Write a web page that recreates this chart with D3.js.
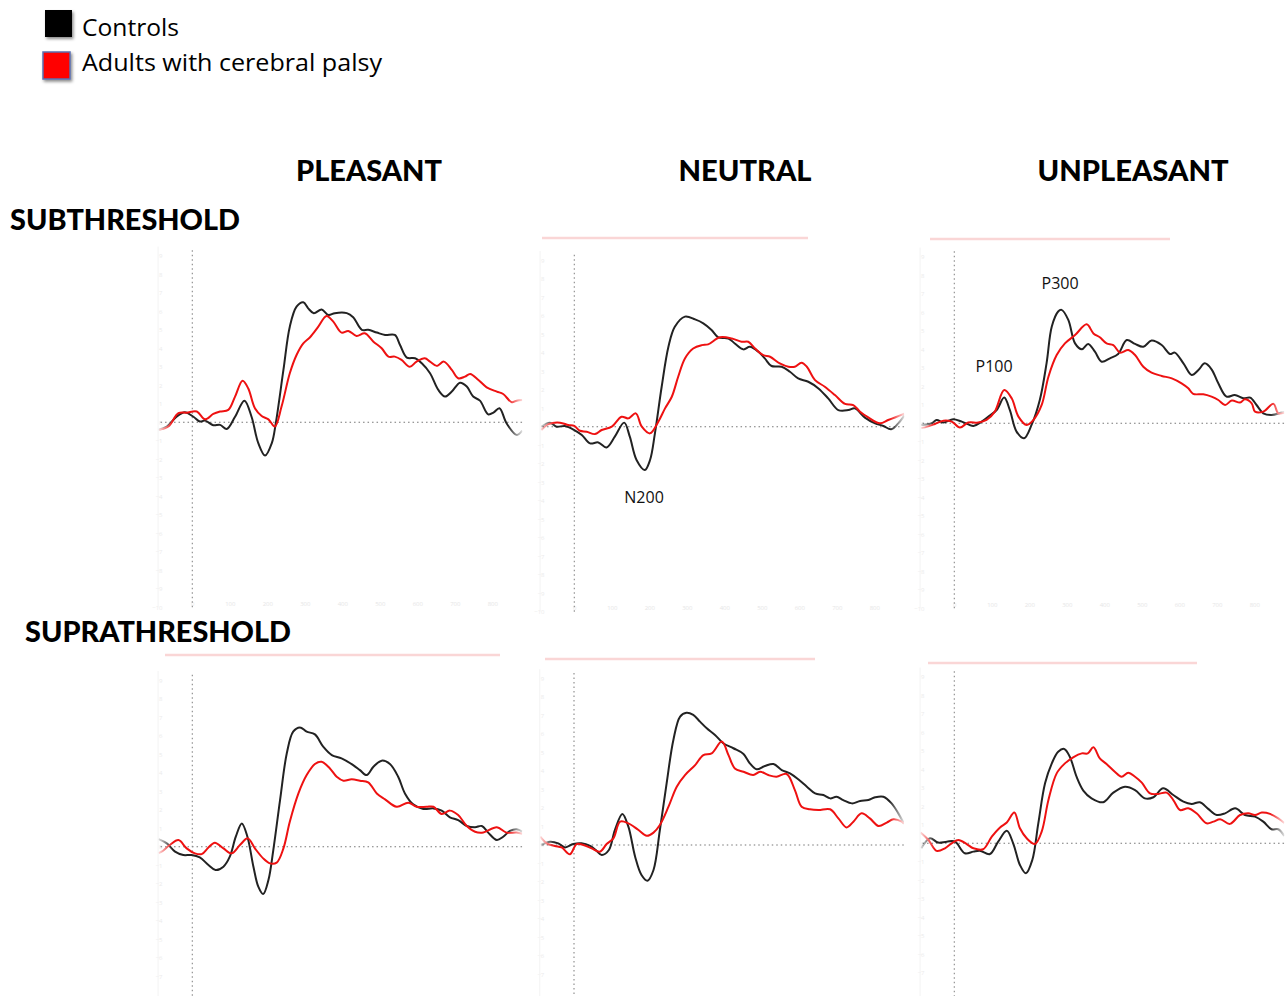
<!DOCTYPE html>
<html>
<head>
<meta charset="utf-8">
<script src="https://cdn.jsdelivr.net/npm/d3@7"></script>
<style>
  html, body { margin: 0; padding: 0; background: #fff; }
  svg { display: block; }
</style>
</head>
<body>
<svg id="chart" width="1288" height="996"></svg>
<script>
// ---------------- DATA ----------------
const conditions = ["PLEASANT", "NEUTRAL", "UNPLEASANT"];
const thresholds = ["SUBTHRESHOLD", "SUPRATHRESHOLD"];
const groups = ["Controls", "Adults with cerebral palsy"];
const timeTicks = [0, 100, 200, 300, 400, 500, 600, 700, 800];
const voltTicks = [9, 8, 7, 6, 5, 4, 3, 2, 1, 0, -1, -2, -3, -4, -5, -6, -7, -8, -9, -10];

// [time (ms), amplitude (µV)]
const subPleasantControls = [[-90,-0.4],[-68,-0.23],[-42,0.3],[-20,0.54],[3,0.3],[20,0.04],[34,0.09],[56,-0.16],[74,-0.14],[92,-0.36],[114,0.3],[139,1.17],[158,0.3],[176,-1.13],[194,-1.8],[212,-1.13],[223,0],[243,2.83],[260,5.17],[278,6.25],[296,6.49],[309,6.16],[324,5.9],[345,6.1],[363,5.8],[380,5.9],[412,5.9],[429,5.68],[452,5.0],[469,5.0],[492,4.85],[514,4.72],[540,4.72],[554,4.18],[572,3.5],[594,3.46],[612,3.19],[634,2.65],[656,1.75],[674,1.39],[692,1.66],[714,2.14],[732,1.93],[749,1.39],[767,1.17],[789,0.43],[803,0.52],[819,0.76],[838,-0.05],[865,-0.68],[880,-0.45]];
const subPleasantCP = [[-88,-0.41],[-64,-0.23],[-37,0.49],[-15,0.52],[12,0.58],[34,0.16],[56,0.45],[74,0.58],[96,0.67],[114,1.39],[134,2.25],[149,1.84],[167,0.76],[185,0.34],[203,0.16],[220,-0.23],[238,0.85],[260,2.65],[278,3.64],[296,4.27],[314,4.6],[336,5.17],[358,5.75],[376,5.44],[398,4.85],[416,4.94],[438,4.67],[460,4.81],[483,4.36],[505,4.0],[523,3.55],[540,3.55],[558,3.37],[580,3.0],[598,3.28],[620,3.46],[634,3.28],[652,3.05],[671,3.28],[692,2.83],[709,2.38],[727,2.47],[741,2.61],[763,2.29],[785,1.89],[812,1.66],[829,1.53],[852,1.08],[865,1.17],[880,1.21]];

const subNeutralControls = [[-88,0],[-65,0.22],[-47,0],[-25,0.04],[0,-0.18],[20,-0.45],[42,-0.9],[64,-0.85],[86,-1.12],[108,-0.54],[133,0.22],[148,-0.54],[166,-1.8],[188,-2.34],[202,-1.8],[215,-0.36],[233,2.16],[251,4.32],[268,5.4],[295,5.95],[322,5.8],[344,5.59],[366,5.23],[384,4.83],[411,4.77],[428,4.5],[451,4.18],[468,4.32],[491,4.05],[508,3.69],[526,3.28],[553,3.24],[575,2.97],[597,2.61],[624,2.43],[651,2.07],[677,1.53],[704,0.9],[731,0.9],[748,0.99],[775,0.49],[802,0.18],[824,0.04],[845,-0.14],[864,0.18],[880,0.6]];
const subNeutralCP = [[-88,-0.18],[-69,0.14],[-38,0.22],[-16,0.09],[0,0.04],[15,-0.22],[33,-0.27],[55,-0.4],[73,-0.18],[100,0],[126,0.54],[144,0.45],[164,0.72],[180,0],[202,-0.36],[224,0.27],[242,0.99],[260,1.62],[277,2.7],[295,3.69],[317,4.23],[340,4.41],[357,4.45],[388,4.83],[420,4.77],[446,4.59],[464,4.59],[482,4.23],[504,3.87],[522,3.78],[548,3.42],[571,3.24],[588,3.24],[606,3.46],[620,3.24],[642,2.52],[668,2.16],[695,1.71],[722,1.23],[744,1.17],[762,0.81],[784,0.5],[815,0.18],[837,0.36],[855,0.5],[880,0.7]];

const subUnpleasantControls = [[-88,-0.09],[-60,0],[-47,0.18],[-29,0.04],[-3,0.22],[20,0.09],[51,-0.14],[73,0.09],[91,0.36],[113,0.72],[133,1.39],[148,0.72],[166,-0.45],[186,-0.81],[206,-0.09],[228,1.26],[246,3.24],[260,5.23],[277,6.04],[286,6.13],[304,5.59],[322,4.32],[340,4.0],[357,4.29],[375,3.87],[393,3.33],[415,3.51],[437,3.75],[460,4.5],[482,4.29],[504,4.14],[526,4.47],[553,4.23],[575,3.75],[588,3.82],[611,3.24],[633,2.61],[651,2.88],[668,3.24],[686,2.92],[704,2.16],[726,1.44],[748,1.53],[771,1.35],[789,1.39],[806,0.99],[824,0.54],[846,0.45],[873,0.58],[880,0.6]];
const subUnpleasantCP = [[-88,-0.25],[-78,-0.22],[-52,-0.04],[-29,0.14],[-7,0.09],[15,-0.23],[37,0.04],[64,0.04],[86,0.18],[108,0.63],[133,1.8],[153,1.35],[171,0.36],[193,-0.09],[211,0.18],[233,0.99],[251,2.52],[273,3.69],[295,4.32],[322,4.77],[353,5.35],[371,4.86],[388,4.65],[406,4.32],[424,4.23],[442,3.82],[464,3.96],[482,3.69],[504,3.06],[526,2.74],[553,2.56],[580,2.43],[606,2.16],[624,1.89],[637,1.59],[664,1.57],[686,1.44],[704,1.26],[722,0.99],[740,1.23],[762,1.12],[775,1.3],[793,1.08],[802,0.63],[824,0.63],[851,1.05],[864,0.54],[880,0.58]];

const supraPleasantControls = [[-90,0.41],[-68,0.18],[-46,-0.27],[-24,-0.45],[-2,-0.45],[20,-0.58],[43,-0.99],[62,-1.26],[83,-1.08],[100,-0.54],[116,0.54],[132,1.26],[147,0.54],[163,-1.08],[176,-2.16],[189,-2.56],[203,-1.8],[216,-0.18],[234,2.52],[252,5.05],[269,6.22],[287,6.45],[305,6.22],[327,6.07],[349,5.41],[372,4.95],[398,4.77],[429,4.41],[447,4.14],[465,3.87],[483,4.32],[505,4.65],[527,4.47],[549,3.78],[567,2.88],[589,2.29],[616,2.04],[643,2.07],[665,1.95],[687,1.59],[709,1.44],[732,1.12],[754,1.05],[772,1.12],[789,0.76],[812,0.36],[829,0.54],[847,0.85],[865,0.94],[880,0.82]];
const supraPleasantCP = [[-90,-0.35],[-82,-0.27],[-60,0.09],[-37,0.36],[-15,-0.09],[7,-0.36],[25,-0.4],[43,-0.04],[60,0.22],[83,-0.09],[105,-0.36],[127,0.09],[148,0.45],[167,-0.09],[189,-0.63],[207,-0.9],[225,-0.86],[243,-0.09],[260,1.35],[283,2.88],[305,3.87],[327,4.47],[345,4.59],[367,4.23],[385,3.78],[403,3.57],[425,3.64],[447,3.57],[469,3.48],[492,2.88],[514,2.56],[545,2.16],[576,2.38],[598,2.16],[625,2.16],[643,2.16],[665,1.77],[687,1.95],[709,1.71],[732,1.12],[754,0.81],[776,0.77],[812,1.05],[838,0.76],[865,0.77],[880,0.7]];

const supraNeutralControls = [[-88,0],[-64,0.18],[-42,0.09],[-24,-0.13],[-2,0.05],[20,0.09],[43,-0.05],[60,-0.31],[74,-0.54],[93,-0.27],[109,0.81],[129,1.68],[145,0.99],[163,-0.63],[180,-1.62],[196,-1.93],[212,-1.35],[229,0.81],[247,3.33],[265,5.68],[283,6.94],[300,7.15],[318,7.03],[336,6.67],[354,6.31],[376,5.95],[398,5.5],[425,5.23],[452,4.92],[469,4.41],[487,4.09],[509,4.27],[532,4.38],[554,4.05],[576,3.87],[598,3.55],[621,3.15],[643,2.79],[665,2.7],[683,2.52],[700,2.61],[718,2.43],[741,2.25],[763,2.38],[785,2.43],[803,2.58],[825,2.61],[847,2.25],[865,1.71],[880,1.15]];
const supraNeutralCP = [[-90,0.45],[-73,0.09],[-51,-0.05],[-33,-0.13],[-11,-0.5],[7,0.05],[25,0],[47,-0.18],[69,-0.36],[87,0.05],[105,0.36],[123,1.26],[145,1.17],[172,0.81],[194,0.5],[212,0.67],[229,1.08],[252,2.07],[274,3.15],[296,3.78],[323,4.32],[345,4.86],[367,4.95],[394,5.59],[412,4.86],[429,4.14],[452,3.96],[478,3.78],[496,3.96],[518,3.78],[540,3.69],[567,3.84],[589,2.97],[607,2.07],[629,1.93],[652,1.89],[683,1.93],[705,1.44],[727,0.95],[745,1.26],[767,1.71],[789,1.44],[812,1.03],[834,1.21],[852,1.39],[874,1.26],[880,1.15]];

const supraUnpleasantControls = [[-88,-0.27],[-65,0.27],[-43,0.04],[-20,0.09],[2,0.09],[28,-0.54],[51,-0.45],[68,-0.4],[95,-0.58],[117,0.09],[140,0.68],[157,0],[175,-1.17],[191,-1.62],[208,-0.9],[224,1.08],[242,3.24],[260,4.32],[277,4.95],[293,5.1],[308,4.68],[326,3.6],[344,2.85],[366,2.43],[397,2.22],[424,2.74],[455,3.06],[482,2.88],[508,2.43],[531,2.49],[557,2.97],[584,2.61],[611,2.25],[633,2.13],[655,2.22],[677,1.86],[700,1.53],[722,1.62],[749,1.89],[775,1.53],[802,1.44],[824,1.17],[846,0.76],[864,0.76],[880,0.4]];
const supraUnpleasantCP = [[-90,0.58],[-69,0.18],[-47,-0.41],[-25,-0.27],[-7,0],[11,0.18],[33,-0.04],[51,-0.27],[77,-0.32],[100,0.36],[122,0.86],[140,1.12],[160,1.66],[175,0.81],[193,0.27],[215,-0.04],[233,0.63],[251,2.34],[273,3.78],[295,4.32],[317,4.65],[340,4.86],[356,4.86],[371,5.19],[388,4.59],[406,4.29],[428,3.87],[446,3.6],[464,3.82],[482,3.6],[500,3.28],[522,2.7],[544,2.67],[566,2.74],[584,2.34],[602,1.8],[624,1.89],[646,1.62],[673,1.08],[691,1.17],[709,1.3],[735,1.05],[762,1.53],[784,1.62],[802,1.53],[820,1.66],[842,1.59],[864,1.35],[880,1.1]];

// Component labels: [panel index, label, time (ms), amplitude (µV)]
const components = [[2, "P300", 282, 7.6], [2, "P100", 106, 3.1], [1, "N200", 186, -3.8]];

// ---------------- LAYOUT ----------------
const W = 1288, H = 996;
const svg = d3.select("#chart");
const tDomain = [-90, 880];
const vDomain = [-10, 9.5];
const pxPerMs = 0.375, pxPerUV = 18.5;

const panelSeries = [
  [subPleasantControls, subPleasantCP],
  [subNeutralControls, subNeutralCP],
  [subUnpleasantControls, subUnpleasantCP],
  [supraPleasantControls, supraPleasantCP],
  [supraNeutralControls, supraNeutralCP],
  [supraUnpleasantControls, supraUnpleasantCP]
];
// onset x position and baseline y position of each panel
const panelPos = [
  {ox: 192.3, oy: 422.3, pink: null},
  {ox: 574.3, oy: 426.7, pink: [542, 808, 238]},
  {ox: 954.3, oy: 423.3, pink: [930, 1170, 239]},
  {ox: 192.3, oy: 846.7, pink: [165, 500, 655]},
  {ox: 574.0, oy: 845.0, pink: [545, 815, 659]},
  {ox: 954.3, oy: 843.3, pink: [928, 1197, 663]}
];
const colors = ["#222222", "#ee1111"];

const defs = svg.append("defs");
const grad = defs.append("linearGradient").attr("id", "fade")
  .attr("x1", 0).attr("x2", 1).attr("y1", 0).attr("y2", 0);
grad.append("stop").attr("offset", "0%").attr("stop-color", "#fff").attr("stop-opacity", 0.15);
grad.append("stop").attr("offset", "4%").attr("stop-color", "#fff").attr("stop-opacity", 1);
grad.append("stop").attr("offset", "96%").attr("stop-color", "#fff").attr("stop-opacity", 1);
grad.append("stop").attr("offset", "100%").attr("stop-color", "#fff").attr("stop-opacity", 0.15);

const shadow = defs.append("filter").attr("id", "shadow")
  .attr("x", "-30%").attr("y", "-30%").attr("width", "170%").attr("height", "170%");
shadow.append("feDropShadow").attr("dx", 1.5).attr("dy", 2).attr("stdDeviation", 1.5)
  .attr("flood-color", "#000").attr("flood-opacity", 0.45);

panelSeries.forEach((series, i) => {
  const p = panelPos[i];
  const x = d3.scaleLinear().domain(tDomain)
    .range([p.ox + tDomain[0] * pxPerMs, p.ox + tDomain[1] * pxPerMs]);
  const y = d3.scaleLinear().domain(vDomain)
    .range([p.oy - vDomain[0] * pxPerUV, p.oy - vDomain[1] * pxPerUV]);
  const g = svg.append("g");

  // faint remnants of original axes (only those inside the page)
  const visibleVolts = voltTicks.filter(v => y(v) < H - 6);
  const yAxis = d3.axisLeft(y).tickValues(visibleVolts).tickSize(0).tickPadding(0);
  g.append("g").attr("transform", `translate(${x(tDomain[0]) + 4},0)`).call(yAxis)
    .call(a => a.select(".domain").remove())
    .call(a => a.selectAll("text").attr("fill", "#ebebeb").attr("font-size", 6).attr("font-family", "Open Sans"));
  if (y(vDomain[0]) - 6 < H - 6) {
    const xAxis = d3.axisBottom(x).tickValues(timeTicks).tickSize(0).tickPadding(0);
    g.append("g").attr("transform", `translate(0,${y(vDomain[0]) - 6})`).call(xAxis)
      .call(a => a.select(".domain").remove())
      .call(a => a.selectAll("text").attr("fill", "#e6e6e6").attr("font-size", 6).attr("font-family", "Open Sans"));
  }
  g.append("line")
    .attr("x1", x(tDomain[0]) - 0.5).attr("x2", x(tDomain[0]) - 0.5)
    .attr("y1", y(vDomain[1])).attr("y2", Math.min(y(vDomain[0]), H))
    .attr("stroke", "#f3f3f3").attr("stroke-width", 1);
  if (p.pink) {
    g.append("line").attr("x1", p.pink[0]).attr("x2", p.pink[1])
      .attr("y1", p.pink[2]).attr("y2", p.pink[2])
      .attr("stroke", "#fad6d6").attr("stroke-width", 2.5);
  }

  // dotted zero lines
  g.append("line")
    .attr("x1", x(tDomain[0]) + 2).attr("x2", x(tDomain[1]))
    .attr("y1", y(0)).attr("y2", y(0))
    .attr("stroke", "#777").attr("stroke-width", 1.1).attr("stroke-dasharray", "1.5,3");
  g.append("line")
    .attr("x1", x(0)).attr("x2", x(0))
    .attr("y1", y(9.3)).attr("y2", Math.min(y(-10), H))
    .attr("stroke", "#888").attr("stroke-width", 1.1).attr("stroke-dasharray", "1.5,3");

  // ERP waveforms
  const maskId = "m" + i;
  defs.append("mask").attr("id", maskId).attr("maskUnits", "userSpaceOnUse")
    .append("rect")
    .attr("x", x(tDomain[0])).attr("y", y(vDomain[1]))
    .attr("width", x(tDomain[1]) - x(tDomain[0])).attr("height", y(vDomain[0]) - y(vDomain[1]))
    .attr("fill", "url(#fade)");
  const line = d3.line().x(d => x(d[0])).y(d => y(d[1])).curve(d3.curveCatmullRom.alpha(0.5));
  const lg = g.append("g").attr("mask", `url(#${maskId})`);
  series.forEach((s, k) => {
    lg.append("path").datum(s)
      .attr("d", line)
      .attr("fill", "none")
      .attr("stroke", colors[k])
      .attr("stroke-width", 2)
      .attr("stroke-linejoin", "round");
  });

  // component labels
  components.filter(c => c[0] === i).forEach(c => {
    g.append("text")
      .attr("x", x(c[2])).attr("y", y(c[3]))
      .attr("text-anchor", "middle").attr("dominant-baseline", "central")
      .attr("font-family", "Open Sans").attr("font-size", 16).attr("fill", "#111")
      .text(c[1]);
  });
});

// column titles
const colCenters = [369, 745, 1133];
const colWidths = [146, 133, 191];
conditions.forEach((c, i) => {
  svg.append("text")
    .attr("x", colCenters[i] - colWidths[i] / 2).attr("y", 181)
    .attr("font-family", "Lato").attr("font-weight", "900").attr("font-size", 29)
    .attr("textLength", colWidths[i]).attr("lengthAdjust", "spacingAndGlyphs")
    .attr("fill", "#000").text(c);
});
// row titles
const rowPos = [[10, 230, 230], [25, 642, 266]];
thresholds.forEach((t, i) => {
  svg.append("text")
    .attr("x", rowPos[i][0]).attr("y", rowPos[i][1])
    .attr("font-family", "Lato").attr("font-weight", "900").attr("font-size", 29)
    .attr("textLength", rowPos[i][2]).attr("lengthAdjust", "spacingAndGlyphs")
    .attr("fill", "#000").text(t);
});

// legend
const legY = [10, 52];
const legBase = [36, 71];
const legTextW = [97, 300];
groups.forEach((gname, i) => {
  svg.append("rect")
    .attr("x", i === 0 ? 45 : 43).attr("y", legY[i])
    .attr("width", 27).attr("height", 27)
    .attr("fill", i === 0 ? "#000" : "#ff0000")
    .attr("stroke", i === 0 ? "none" : "#5a6fb0").attr("stroke-width", 1.5)
    .attr("filter", "url(#shadow)");
  svg.append("text")
    .attr("x", 82).attr("y", legBase[i])
    .attr("font-family", "Open Sans").attr("font-size", 24).attr("fill", "#000")
    .attr("textLength", legTextW[i]).attr("lengthAdjust", "spacingAndGlyphs")
    .text(gname);
});
</script>
</body>
</html>
